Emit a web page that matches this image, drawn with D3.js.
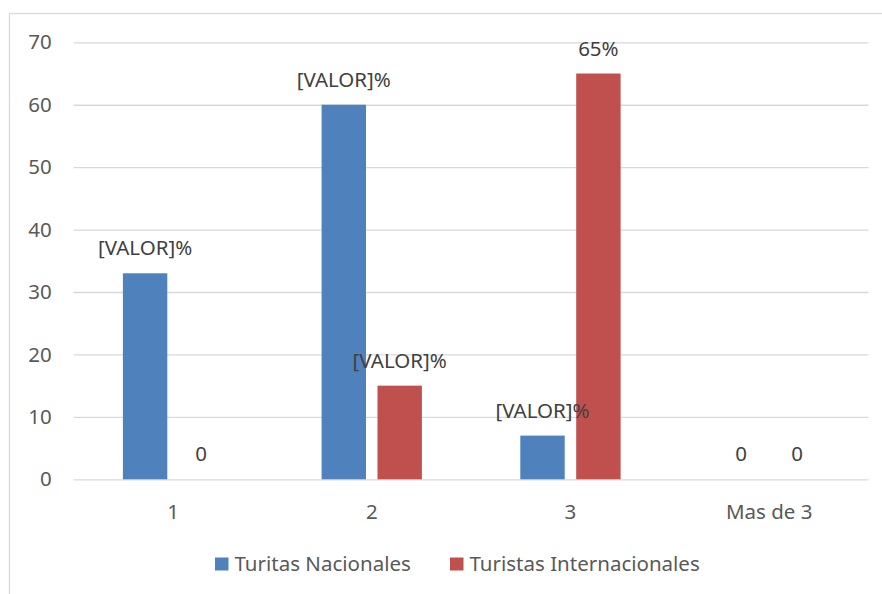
<!DOCTYPE html>
<html>
<head>
<meta charset="utf-8">
<script src="https://cdn.jsdelivr.net/npm/d3@7"></script>
<style>
  html, body { margin: 0; padding: 0; background: #fff; }
  svg { display: block; font-family: "Noto Sans", "Open Sans", sans-serif; }
</style>
</head>
<body>
<svg id="chart" width="882" height="594"></svg>
<script>
// Number of visits, by tourist origin
const categories = ["1", "2", "3", "Mas de 3"];
const seriesNames = ["Turitas Nacionales", "Turistas Internacionales"];
const nacionales = [33, 60, 7, 0];
const internacionales = [0, 15, 65, 0];
// Data label templates; {v} is replaced by the point value
const nacionalesLabels = ["[VALOR]%", "[VALOR]%", "[VALOR]%", "{v}"];
const internacionalesLabels = ["{v}", "[VALOR]%", "{v}%", "{v}"];
const yTicks = [0, 10, 20, 30, 40, 50, 60, 70];
const colors = ["#4f81bd", "#c0504d"];

const series = [
  { name: seriesNames[0], values: nacionales, labels: nacionalesLabels, color: colors[0] },
  { name: seriesNames[1], values: internacionales, labels: internacionalesLabels, color: colors[1] }
];

const svg = d3.select("#chart");
const textColor = "#595959";
const gridColor = "#d9d9d9";
const fontSize = "20.5px";

// chart frame (runs past the right and bottom edges)
svg.append("rect")
  .attr("x", 9.5).attr("y", 13.5)
  .attr("width", 900).attr("height", 600)
  .attr("fill", "#fff").attr("stroke", gridColor).attr("stroke-width", 1.3);

const plot = { left: 73.7, right: 868.5, top: 42.3, bottom: 479.3 };

const y = d3.scaleLinear().domain([0, 70]).range([plot.bottom, plot.top]);
const x0 = d3.scaleBand().domain(categories).range([plot.left, plot.right]).padding(0);
const barW = 44.4, gap = 11.5;
const x1 = d3.scaleOrdinal().domain(seriesNames)
  .range([-gap / 2 - barW, gap / 2]);

// gridlines + y tick labels
const yAxis = d3.axisLeft(y).tickValues(yTicks)
  .tickSize(-(plot.right - plot.left)).tickPadding(22).tickFormat(d3.format("d"));
const gy = svg.append("g").attr("transform", `translate(${plot.left},0)`).call(yAxis);
gy.select(".domain").remove();
gy.selectAll(".tick line").attr("stroke", gridColor).attr("stroke-width", 1.3);
gy.selectAll(".tick text").attr("fill", textColor)
  .style("font-size", fontSize).style("font-family", "'Noto Sans', sans-serif");

// category labels
const xAxis = d3.axisBottom(x0).tickSize(0).tickPadding(25);
const gx = svg.append("g").attr("transform", `translate(0,${plot.bottom})`).call(xAxis);
gx.select(".domain").remove();
gx.selectAll(".tick text").attr("fill", textColor)
  .style("font-size", fontSize).style("font-family", "'Noto Sans', sans-serif");

// bars
series.forEach(s => {
  const g = svg.append("g");
  g.selectAll("rect").data(s.values).join("rect")
    .attr("x", (d, i) => x0(categories[i]) + x0.bandwidth() / 2 + x1(s.name))
    .attr("y", d => y(d))
    .attr("width", barW)
    .attr("height", d => y(0) - y(d))
    .attr("fill", s.color);
});

// data labels
series.forEach(s => {
  svg.append("g").selectAll("text").data(s.values).join("text")
    .attr("x", (d, i) => x0(categories[i]) + x0.bandwidth() / 2 + x1(s.name) + barW / 2)
    .attr("y", d => y(d) - 25)
    .attr("dy", "0.35em")
    .attr("text-anchor", "middle")
    .attr("fill", "#404040")
    .style("font-size", fontSize)
    .text((d, i) => s.labels[i].replace("{v}", d));
});

// legend
const legend = svg.append("g");
const legendX = [215, 450];
series.forEach((s, i) => {
  const g = legend.append("g").attr("transform", `translate(${legendX[i]},564)`);
  g.append("rect").attr("x", 0).attr("y", -6.5).attr("width", 13.5).attr("height", 13).attr("fill", s.color);
  g.append("text").attr("x", 19.5).attr("y", 0).attr("dy", "0.35em")
    .attr("fill", textColor).style("font-size", fontSize).text(s.name);
});
</script>
</body>
</html>
